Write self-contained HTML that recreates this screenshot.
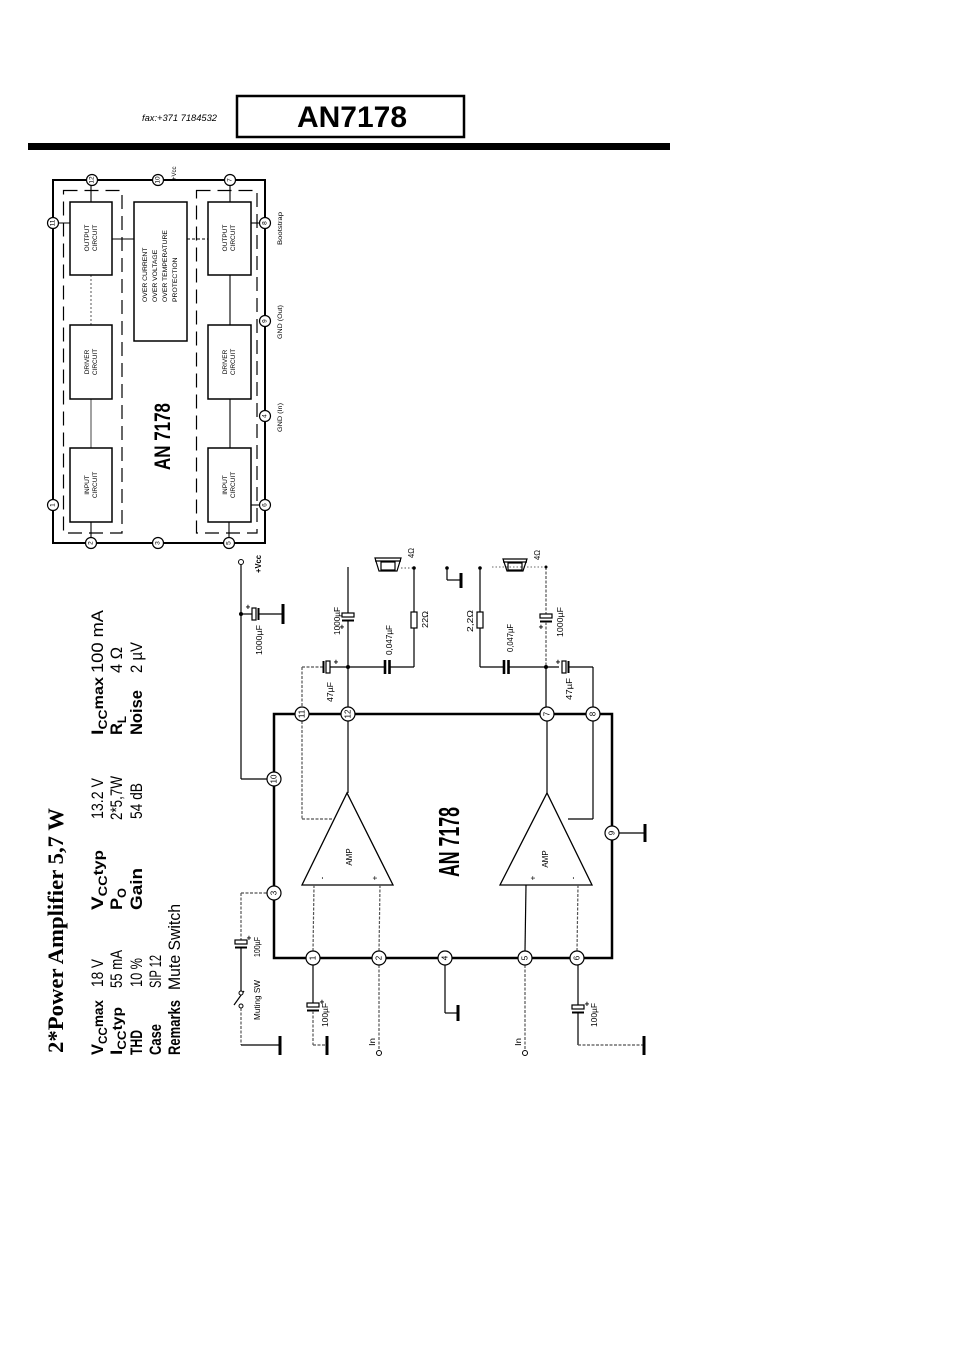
<!DOCTYPE html>
<html><head><meta charset="utf-8"><style>
html,body{margin:0;padding:0;background:#fff;}
svg{display:block;}
</style></head><body>
<svg width="954" height="1350" viewBox="0 0 954 1350" xmlns="http://www.w3.org/2000/svg" font-family="'Liberation Sans', Arial, sans-serif">
<rect width="954" height="1350" fill="#fff"/>

<!-- ============ HEADER ============ -->
<text x="142" y="121" font-size="9" font-style="italic" textLength="75" lengthAdjust="spacingAndGlyphs">fax:+371 7184532</text>
<rect x="237" y="96" width="227" height="41" fill="none" stroke="#000" stroke-width="2.5"/>
<text x="297" y="127" font-size="30" font-weight="bold" textLength="110" lengthAdjust="spacingAndGlyphs">AN7178</text>
<rect x="28" y="143" width="642" height="7" fill="#000"/>

<!-- ============ BLOCK DIAGRAM ============ -->
<g fill="none" stroke="#000">
  <rect x="53" y="180" width="212" height="363" stroke-width="2"/>
  <rect x="63.5" y="190.5" width="58.5" height="342.5" stroke-width="1.2" stroke-dasharray="14 7"/>
  <rect x="196.5" y="190.5" width="60.5" height="342.5" stroke-width="1.2" stroke-dasharray="14 7"/>
</g>
<!-- connections -->
<g stroke="#000" stroke-width="1.1" fill="none">
  <line x1="91" y1="180" x2="91" y2="202"/>
  <line x1="91" y1="275" x2="91" y2="325" stroke="#666" stroke-dasharray="2 2"/>
  <line x1="91" y1="399" x2="91" y2="448" stroke="#555"/>
  <line x1="91" y1="522" x2="91" y2="543"/>
  <line x1="230" y1="180" x2="230" y2="202"/>
  <line x1="230" y1="275" x2="230" y2="325"/>
  <line x1="230" y1="399" x2="230" y2="448"/>
  <line x1="229" y1="522" x2="229" y2="543"/>
  <line x1="53" y1="223" x2="70" y2="223"/>
  <line x1="251" y1="223" x2="265" y2="223"/>
  <line x1="112" y1="239" x2="134" y2="239"/>
  <line x1="187" y1="239" x2="208" y2="239" stroke-dasharray="3 2"/>
  <line x1="251" y1="505" x2="265" y2="505"/>
</g>
<!-- blocks -->
<g fill="#fff" stroke="#000" stroke-width="1.5">
  <rect x="70" y="202" width="42" height="73"/>
  <rect x="70" y="325" width="42" height="74"/>
  <rect x="70" y="448" width="42" height="74"/>
  <rect x="134" y="202" width="53" height="139"/>
  <rect x="208" y="202" width="43" height="73"/>
  <rect x="208" y="325" width="43" height="74"/>
  <rect x="208" y="448" width="43" height="74"/>
</g>
<!-- block texts -->
<g font-size="6.5" text-anchor="middle">
  <text transform="translate(89 238) rotate(-90)">OUTPUT</text>
  <text transform="translate(97 238) rotate(-90)">CIRCUIT</text>
  <text transform="translate(89 362) rotate(-90)">DRIVER</text>
  <text transform="translate(97 362) rotate(-90)">CIRCUIT</text>
  <text transform="translate(89 485) rotate(-90)">INPUT</text>
  <text transform="translate(97 485) rotate(-90)">CIRCUIT</text>
  <text transform="translate(227 238) rotate(-90)">OUTPUT</text>
  <text transform="translate(235 238) rotate(-90)">CIRCUIT</text>
  <text transform="translate(227 362) rotate(-90)">DRIVER</text>
  <text transform="translate(235 362) rotate(-90)">CIRCUIT</text>
  <text transform="translate(227 485) rotate(-90)">INPUT</text>
  <text transform="translate(235 485) rotate(-90)">CIRCUIT</text>
</g>
<g font-size="6.8">
  <text transform="translate(147 302) rotate(-90)">OVER CURRENT</text>
  <text transform="translate(157 302) rotate(-90)">OVER VOLTAGE</text>
  <text transform="translate(167 302) rotate(-90)">OVER TEMPERATURE</text>
  <text transform="translate(177 302) rotate(-90)">PROTECTION</text>
</g>
<text transform="translate(170 470) rotate(-90)" font-size="22" font-weight="bold" textLength="67" lengthAdjust="spacingAndGlyphs">AN 7178</text>
<!-- side labels -->
<g font-size="6">
  <text transform="translate(176 180) rotate(-90)">+Vcc</text>
  <text transform="translate(282 245) rotate(-90)" textLength="33" lengthAdjust="spacingAndGlyphs">Bootstrap</text>
  <text transform="translate(282 339) rotate(-90)" textLength="34" lengthAdjust="spacingAndGlyphs">GND (Out)</text>
  <text transform="translate(282 432) rotate(-90)" textLength="29" lengthAdjust="spacingAndGlyphs">GND (In)</text>
</g>
<!-- block pins -->
<g fill="#fff" stroke="#000" stroke-width="1.2">
  <circle cx="53" cy="223" r="5.5"/>
  <circle cx="53" cy="505" r="5.5"/>
  <circle cx="92" cy="180" r="5.5"/>
  <circle cx="158" cy="180" r="5.5"/>
  <circle cx="230" cy="180" r="5.5"/>
  <circle cx="265" cy="223" r="5.5"/>
  <circle cx="265" cy="321" r="5.5"/>
  <circle cx="265" cy="416" r="5.5"/>
  <circle cx="265" cy="505" r="5.5"/>
  <circle cx="91" cy="543" r="5.5"/>
  <circle cx="158" cy="543" r="5.5"/>
  <circle cx="229" cy="543" r="5.5"/>
</g>
<g font-size="6.5" text-anchor="middle" dominant-baseline="central">
  <text transform="translate(53 223) rotate(-90)">11</text>
  <text transform="translate(53 505) rotate(-90)">1</text>
  <text transform="translate(92 180) rotate(-90)">12</text>
  <text transform="translate(158 180) rotate(-90)">10</text>
  <text transform="translate(230 180) rotate(-90)">7</text>
  <text transform="translate(265 223) rotate(-90)">8</text>
  <text transform="translate(265 321) rotate(-90)">9</text>
  <text transform="translate(265 416) rotate(-90)">4</text>
  <text transform="translate(265 505) rotate(-90)">6</text>
  <text transform="translate(91 543) rotate(-90)">2</text>
  <text transform="translate(158 543) rotate(-90)">3</text>
  <text transform="translate(229 543) rotate(-90)">5</text>
</g>

<!-- ============ SPECS ============ -->
<text transform="translate(63 1053) rotate(-90)" font-family="'Liberation Serif', 'Times New Roman', serif" font-weight="bold" font-size="22" textLength="245" lengthAdjust="spacingAndGlyphs">2*Power Amplifier 5,7 W</text>

<g font-size="17">
  <!-- column 1 -->
  <text transform="translate(103 1055) rotate(-90)" font-weight="bold" textLength="55" lengthAdjust="spacingAndGlyphs">V<tspan font-size="12" dy="4">CC</tspan><tspan font-size="14" dy="-4">max</tspan></text>
  <text transform="translate(103 987) rotate(-90)" textLength="28" lengthAdjust="spacingAndGlyphs">18 V</text>
  <text transform="translate(122 1055) rotate(-90)" font-weight="bold" textLength="48" lengthAdjust="spacingAndGlyphs">I<tspan font-size="12" dy="4">CC</tspan><tspan font-size="14" dy="-4">typ</tspan></text>
  <text transform="translate(122 988) rotate(-90)" textLength="38" lengthAdjust="spacingAndGlyphs">55 mA</text>
  <text transform="translate(142 1055) rotate(-90)" font-weight="bold" textLength="25" lengthAdjust="spacingAndGlyphs">THD</text>
  <text transform="translate(142 987) rotate(-90)" textLength="29" lengthAdjust="spacingAndGlyphs">10 %</text>
  <text transform="translate(161 1055) rotate(-90)" font-weight="bold" textLength="31" lengthAdjust="spacingAndGlyphs">Case</text>
  <text transform="translate(161 988) rotate(-90)" textLength="33" lengthAdjust="spacingAndGlyphs">SIP 12</text>
  <text transform="translate(180 1055) rotate(-90)" font-weight="bold" textLength="55" lengthAdjust="spacingAndGlyphs">Remarks</text>
  <text transform="translate(180 990) rotate(-90)" textLength="86" lengthAdjust="spacingAndGlyphs">Mute Switch</text>
  <!-- column 2 -->
  <text transform="translate(103 910) rotate(-90)" font-weight="bold" textLength="60" lengthAdjust="spacingAndGlyphs">V<tspan font-size="12" dy="4">CC</tspan><tspan font-size="14" dy="-4">typ</tspan></text>
  <text transform="translate(103 819) rotate(-90)" textLength="41" lengthAdjust="spacingAndGlyphs">13.2 V</text>
  <text transform="translate(122 910) rotate(-90)" font-weight="bold" textLength="22" lengthAdjust="spacingAndGlyphs">P<tspan font-size="12" dy="4">O</tspan></text>
  <text transform="translate(122 820) rotate(-90)" textLength="44" lengthAdjust="spacingAndGlyphs">2*5,7W</text>
  <text transform="translate(142 910) rotate(-90)" font-weight="bold" textLength="42" lengthAdjust="spacingAndGlyphs">Gain</text>
  <text transform="translate(142 819) rotate(-90)" textLength="36" lengthAdjust="spacingAndGlyphs">54 dB</text>
  <!-- column 3 -->
  <text transform="translate(103 735) rotate(-90)" font-weight="bold" textLength="58" lengthAdjust="spacingAndGlyphs">I<tspan font-size="12" dy="4">CC</tspan><tspan font-size="14" dy="-4">max</tspan></text>
  <text transform="translate(103 673) rotate(-90)" textLength="63" lengthAdjust="spacingAndGlyphs">100 mA</text>
  <text transform="translate(122 735) rotate(-90)" font-weight="bold" textLength="19" lengthAdjust="spacingAndGlyphs">R<tspan font-size="12" dy="4">L</tspan></text>
  <text transform="translate(122 673) rotate(-90)" textLength="26" lengthAdjust="spacingAndGlyphs">4 Ω</text>
  <text transform="translate(142 735) rotate(-90)" font-weight="bold" textLength="45" lengthAdjust="spacingAndGlyphs">Noise</text>
  <text transform="translate(142 673) rotate(-90)" textLength="31" lengthAdjust="spacingAndGlyphs">2 µV</text>
</g>

<!-- ============ SCHEMATIC ============ -->
<!-- IC box -->
<rect x="274" y="714" width="338" height="244" fill="none" stroke="#000" stroke-width="2.5"/>

<g stroke="#000" stroke-width="1.2" fill="none">
  <!-- +Vcc rail to pin 10 -->
  <line x1="241" y1="565" x2="241" y2="779"/>
  <line x1="241" y1="779" x2="268" y2="779"/>
  <!-- power cap -->
  <line x1="241" y1="614" x2="252" y2="614"/>
  <rect x="252" y="608" width="4" height="12"/>
  <line x1="258.5" y1="608" x2="258.5" y2="620" stroke-width="2"/>
  <line x1="259" y1="614" x2="283" y2="614"/>
  <!-- pin12 wire up -->
  <line x1="348" y1="567" x2="348" y2="613"/>
  <rect x="342" y="613" width="12" height="4"/>
  <line x1="342" y1="620.5" x2="354" y2="620.5" stroke-width="2"/>
  <line x1="348" y1="621" x2="348" y2="707"/>
  <!-- pin11 -->
  <line x1="302" y1="667" x2="302" y2="707" stroke="#555" stroke-dasharray="3 1.5"/>
  <!-- y=667 left -->
  <line x1="302" y1="667" x2="323" y2="667" stroke="#555" stroke-dasharray="3 1.5"/>
  <line x1="323.5" y1="661" x2="323.5" y2="673" stroke-width="2"/>
  <rect x="326" y="661" width="4" height="12"/>
  <line x1="330" y1="667" x2="384" y2="667"/>
  <line x1="390" y1="667" x2="414" y2="667"/>
  <!-- 22 ohm branch -->
  <line x1="414" y1="568" x2="414" y2="612"/>
  <rect x="411" y="612" width="6" height="16" fill="#fff"/>
  <line x1="414" y1="628" x2="414" y2="667"/>
  <line x1="401" y1="568" x2="414" y2="568" stroke="#777" stroke-dasharray="1.5 2"/>
  <!-- right side -->
  <line x1="480" y1="568" x2="480" y2="612"/>
  <rect x="477" y="612" width="6" height="16" fill="#fff"/>
  <line x1="480" y1="628" x2="480" y2="667"/>
  <line x1="480" y1="667" x2="503" y2="667"/>
  <line x1="509" y1="667" x2="559" y2="667"/>
  <rect x="562" y="661" width="4" height="12"/>
  <line x1="568.5" y1="661" x2="568.5" y2="673" stroke-width="2"/>
  <line x1="569" y1="667" x2="593" y2="667"/>
  <line x1="593" y1="667" x2="593" y2="707"/>
  <line x1="546" y1="567" x2="546" y2="614" stroke="#555" stroke-dasharray="3 1.5"/>
  <rect x="540" y="614" width="12" height="4"/>
  <line x1="540" y1="621.5" x2="552" y2="621.5" stroke-width="2"/>
  <line x1="546" y1="622" x2="546" y2="667" stroke="#555" stroke-dasharray="3 1.5"/>
  <line x1="546" y1="667" x2="546" y2="707"/>
  <line x1="492" y1="567" x2="546" y2="567" stroke="#888" stroke-dasharray="1.5 2"/>
  <!-- ground at 447 -->
  <line x1="447" y1="568" x2="447" y2="580"/>
  <line x1="447" y1="580" x2="460" y2="580"/>

  <!-- inside IC -->
  <line x1="348" y1="721" x2="348" y2="793"/>
  <line x1="302" y1="721" x2="302" y2="819" stroke="#555" stroke-dasharray="3 1.5"/>
  <line x1="302" y1="819" x2="332" y2="819" stroke="#555" stroke-dasharray="3 1.5"/>
  <line x1="547" y1="721" x2="547" y2="793"/>
  <line x1="593" y1="721" x2="593" y2="819"/>
  <line x1="593" y1="819" x2="568" y2="819"/>
  <polygon points="302,885 393,885 347,793" stroke-width="1.3"/>
  <polygon points="500,885 592,885 547,793" stroke-width="1.3"/>
  <line x1="314" y1="885" x2="313" y2="951" stroke="#555" stroke-dasharray="3 1.5"/>
  <line x1="380" y1="885" x2="379" y2="951" stroke="#555" stroke-dasharray="3 1.5"/>
  <line x1="526" y1="885" x2="525" y2="951"/>
  <line x1="578" y1="885" x2="577" y2="951" stroke="#555" stroke-dasharray="3 1.5"/>

  <!-- pin 9 -->
  <line x1="619" y1="833" x2="645" y2="833"/>
  <!-- pin 3 / mute -->
  <line x1="241" y1="893" x2="267" y2="893" stroke="#555" stroke-dasharray="3 1.5"/>
  <line x1="241" y1="893" x2="241" y2="940" stroke="#555" stroke-dasharray="3 1.5"/>
  <rect x="235" y="940" width="12" height="4"/>
  <line x1="235" y1="947.5" x2="247" y2="947.5" stroke-width="2"/>
  <line x1="241" y1="948" x2="241" y2="991"/>
  <line x1="234" y1="1005" x2="244" y2="991"/>
  <line x1="241" y1="1008" x2="241" y2="1045" stroke="#555" stroke-dasharray="3 1.5"/>
  <line x1="241" y1="1045" x2="280" y2="1045"/>
  <!-- pin 1 -->
  <line x1="313" y1="965" x2="313" y2="1003"/>
  <rect x="307" y="1003" width="12" height="4"/>
  <line x1="307" y1="1010.5" x2="319" y2="1010.5" stroke-width="2"/>
  <line x1="313" y1="1011" x2="313" y2="1045" stroke="#555" stroke-dasharray="3 1.5"/>
  <line x1="313" y1="1045" x2="327" y2="1045" stroke="#555" stroke-dasharray="3 1.5"/>
  <!-- pin 2 -->
  <line x1="379" y1="965" x2="379" y2="1050" stroke="#555" stroke-dasharray="3 1.5"/>
  <!-- pin 4 -->
  <line x1="445" y1="965" x2="445" y2="1013"/>
  <line x1="445" y1="1013" x2="458" y2="1013"/>
  <!-- pin 5 -->
  <line x1="525" y1="965" x2="525" y2="1050" stroke="#555" stroke-dasharray="3 1.5"/>
  <!-- pin 6 -->
  <line x1="578" y1="965" x2="578" y2="1005"/>
  <rect x="572" y="1005" width="12" height="4"/>
  <line x1="572" y1="1012.5" x2="584" y2="1012.5" stroke-width="2"/>
  <line x1="578" y1="1013" x2="578" y2="1045"/>
  <line x1="578" y1="1045" x2="643" y2="1045" stroke="#555" stroke-dasharray="3 1.5"/>

  <!-- speakers -->
  <polygon points="375,558 401,558 397,571 379,571"/>
  <line x1="375" y1="561" x2="401" y2="561"/>
  <rect x="381" y="562" width="14" height="8"/>
  <polygon points="503,559 527,559 523,571 507,571"/>
  <line x1="503" y1="562" x2="527" y2="562"/>
  <rect x="508" y="563" width="14" height="7"/>
</g>

<!-- ceramic caps -->
<g stroke="#000" stroke-width="2.6">
  <line x1="385" y1="660" x2="385" y2="674"/>
  <line x1="389.5" y1="660" x2="389.5" y2="674"/>
  <line x1="504" y1="660" x2="504" y2="674"/>
  <line x1="508.5" y1="660" x2="508.5" y2="674"/>
</g>
<!-- ground bars -->
<g stroke="#000" stroke-width="3">
  <line x1="283" y1="604" x2="283" y2="624"/>
  <line x1="461" y1="573" x2="461" y2="588"/>
  <line x1="645" y1="824" x2="645" y2="842"/>
  <line x1="280" y1="1036" x2="280" y2="1055"/>
  <line x1="327" y1="1036" x2="327" y2="1055"/>
  <line x1="458" y1="1005" x2="458" y2="1021"/>
  <line x1="644" y1="1036" x2="644" y2="1055"/>
</g>
<!-- junction dots & terminals -->
<g fill="#000">
  <circle cx="241" cy="614" r="2"/>
  <circle cx="348" cy="667" r="2"/>
  <circle cx="546" cy="667" r="2"/>
  <circle cx="414" cy="568" r="1.8"/>
  <circle cx="480" cy="568" r="1.8"/>
  <circle cx="447" cy="568" r="1.8"/>
  <circle cx="546" cy="567" r="1.5"/>
</g>
<g fill="#fff" stroke="#000" stroke-width="1">
  <circle cx="241" cy="562" r="2.5"/>
  <circle cx="379" cy="1053" r="2.5"/>
  <circle cx="525" cy="1053" r="2.5"/>
  <circle cx="241" cy="993" r="2"/>
  <circle cx="241" cy="1006" r="2"/>
</g>
<!-- plus signs -->
<g font-size="8" font-weight="bold" text-anchor="middle" dominant-baseline="central">
  <text x="248" y="607">+</text>
  <text x="342" y="627">+</text>
  <text x="336" y="662">+</text>
  <text x="558" y="662">+</text>
  <text x="541" y="627">+</text>
  <text x="249" y="938">+</text>
  <text x="322" y="1002">+</text>
  <text x="587" y="1004">+</text>
</g>

<!-- IC pins -->
<g fill="#fff" stroke="#000" stroke-width="1.2">
  <circle cx="302" cy="714" r="7"/>
  <circle cx="348" cy="714" r="7"/>
  <circle cx="547" cy="714" r="7"/>
  <circle cx="593" cy="714" r="7"/>
  <circle cx="274" cy="779" r="7"/>
  <circle cx="274" cy="893" r="7"/>
  <circle cx="612" cy="833" r="7"/>
  <circle cx="313" cy="958" r="7"/>
  <circle cx="379" cy="958" r="7"/>
  <circle cx="445" cy="958" r="7"/>
  <circle cx="525" cy="958" r="7"/>
  <circle cx="577" cy="958" r="7"/>
</g>
<g font-size="8" text-anchor="middle" dominant-baseline="central">
  <text transform="translate(302 714) rotate(-90)">11</text>
  <text transform="translate(348 714) rotate(-90)">12</text>
  <text transform="translate(547 714) rotate(-90)">7</text>
  <text transform="translate(593 714) rotate(-90)">8</text>
  <text transform="translate(274 779) rotate(-90)">10</text>
  <text transform="translate(274 893) rotate(-90)">3</text>
  <text transform="translate(612 833) rotate(-90)">9</text>
  <text transform="translate(313 958) rotate(-90)">1</text>
  <text transform="translate(379 958) rotate(-90)">2</text>
  <text transform="translate(445 958) rotate(-90)">4</text>
  <text transform="translate(525 958) rotate(-90)">5</text>
  <text transform="translate(577 958) rotate(-90)">6</text>
</g>

<!-- amp signs & labels -->
<g font-size="8" text-anchor="middle" dominant-baseline="central">
  <text transform="translate(322 878) rotate(-90)">-</text>
  <text transform="translate(375 878) rotate(-90)">+</text>
  <text transform="translate(533 878) rotate(-90)">+</text>
  <text transform="translate(573 878) rotate(-90)">-</text>
</g>
<g font-size="8" text-anchor="middle">
  <text transform="translate(352 857) rotate(-90)">AMP</text>
  <text transform="translate(548 859) rotate(-90)">AMP</text>
</g>
<text transform="translate(459 877) rotate(-90)" font-size="29" font-weight="bold" textLength="70" lengthAdjust="spacingAndGlyphs">AN 7178</text>

<!-- component labels -->
<g font-size="8">
  <text transform="translate(261 573) rotate(-90)" font-weight="bold" textLength="18" lengthAdjust="spacingAndGlyphs">+Vcc</text>
  <text transform="translate(262 655) rotate(-90)" textLength="30" lengthAdjust="spacingAndGlyphs">1000µF</text>
  <text transform="translate(340 635) rotate(-90)" textLength="28" lengthAdjust="spacingAndGlyphs">1000µF</text>
  <text transform="translate(333 702) rotate(-90)" textLength="20" lengthAdjust="spacingAndGlyphs">47µF</text>
  <text transform="translate(392 655) rotate(-90)" textLength="30" lengthAdjust="spacingAndGlyphs">0,047µF</text>
  <text transform="translate(428 628) rotate(-90)" textLength="17" lengthAdjust="spacingAndGlyphs">22Ω</text>
  <text transform="translate(414 558) rotate(-90)" textLength="10" lengthAdjust="spacingAndGlyphs">4Ω</text>
  <text transform="translate(473 632) rotate(-90)" textLength="22" lengthAdjust="spacingAndGlyphs">2,2Ω</text>
  <text transform="translate(513 652) rotate(-90)" textLength="28" lengthAdjust="spacingAndGlyphs">0,047µF</text>
  <text transform="translate(563 637) rotate(-90)" textLength="30" lengthAdjust="spacingAndGlyphs">1000µF</text>
  <text transform="translate(572 700) rotate(-90)" textLength="22" lengthAdjust="spacingAndGlyphs">47µF</text>
  <text transform="translate(540 560) rotate(-90)" textLength="10" lengthAdjust="spacingAndGlyphs">4Ω</text>
  <text transform="translate(260 957) rotate(-90)" textLength="20" lengthAdjust="spacingAndGlyphs">100µF</text>
  <text transform="translate(260 1020) rotate(-90)" textLength="40" lengthAdjust="spacingAndGlyphs">Muting SW</text>
  <text transform="translate(328 1027) rotate(-90)" textLength="24" lengthAdjust="spacingAndGlyphs">100µF</text>
  <text transform="translate(375 1046) rotate(-90)" textLength="8" lengthAdjust="spacingAndGlyphs">In</text>
  <text transform="translate(521 1046) rotate(-90)" textLength="8" lengthAdjust="spacingAndGlyphs">In</text>
  <text transform="translate(597 1027) rotate(-90)" textLength="24" lengthAdjust="spacingAndGlyphs">100µF</text>
</g>
</svg>
</body></html>
